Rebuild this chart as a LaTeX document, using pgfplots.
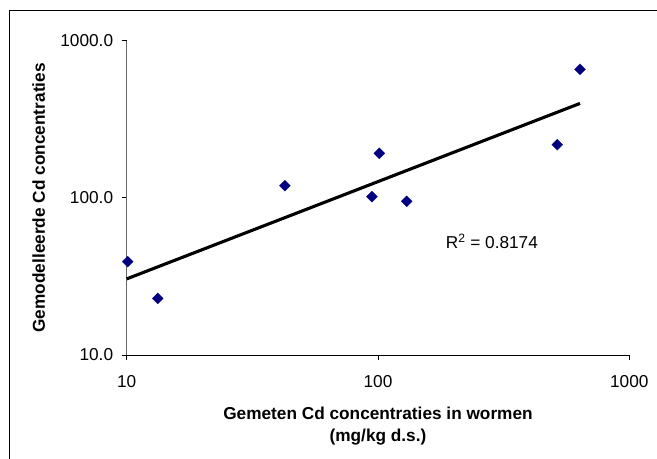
\documentclass[border=0pt]{standalone}
\usepackage{fontspec}
\setmainfont{Liberation Sans}
\usepackage{pgfplots}
\pgfplotsset{compat=1.18}
\definecolor{ptnavy}{RGB}{0,0,128}
\begin{document}
\begin{tikzpicture}
\useasboundingbox (-126.7bp,-104bp) rectangle (530.3bp,355bp);
\begin{axis}[
  at={(0,0)}, anchor=south west,
  scale only axis, width=502.6bp, height=314.3bp,
  xmode=log, ymode=log,
  xmin=10, xmax=1000, ymin=10, ymax=1000,
  axis x line*=bottom, axis y line*=left,
  x axis line style={black, line width=0.9bp, -},
  y axis line style={black!60, line width=0.9bp, -},
  xtick={10,100,1000}, xticklabels={10,100,1000},
  ytick={10,100,1000}, yticklabels={10.0,100.0,1000.0},
  xminorticks=false, yminorticks=false,
  tick align=outside, major tick length=5bp,
  every tick/.style={black, line width=0.9bp},
  ticklabel style={font=\fontsize{17.3}{20}\selectfont, inner sep=0pt},
  yticklabel style={anchor=east, xshift=-8.4bp},
  xticklabel style={anchor=north, yshift=-15bp},
  xlabel={Gemeten Cd concentraties in wormen\\(mg/kg d.s.)},
  xlabel style={at={(axis description cs:0.5,-0.1645)}, anchor=north,
    align=center, inner sep=0pt,
    font=\bfseries\fontsize{17.3}{21.7}\selectfont},
  ylabel={Gemodelleerde Cd concentraties},
  ylabel style={at={(axis description cs:-0.1626,0.5)}, anchor=base,
    inner sep=0pt, font=\bfseries\fontsize{17.3}{21.7}\selectfont},
  clip=false,
]
% gemeten data
\addplot[only marks, mark=square*, mark size=3.9bp,
  mark options={rotate=45, fill=ptnavy, draw=ptnavy, line width=0.2bp}]
  coordinates {(10.09,39.3) (13.29,22.9) (42.6,119.5) (94.6,101.7)
               (101.2,192.1) (130.1,95.1) (516.9,217.9) (636.5,657.6)};
% machtstrendlijn
\addplot[black, line width=3.1bp, no marks]
  coordinates {(10,30.5) (636.5,399)};
\node[anchor=base west, inner sep=0pt, font=\fontsize{17.3}{20}\selectfont]
  at (axis cs:186,47.7) {R\textsuperscript{2} = 0.8174};
\end{axis}
\draw[line width=1bp] (-116.7bp,-104bp) -- (-116.7bp,344bp) -- (530.3bp,344bp);
\end{tikzpicture}
\end{document}
